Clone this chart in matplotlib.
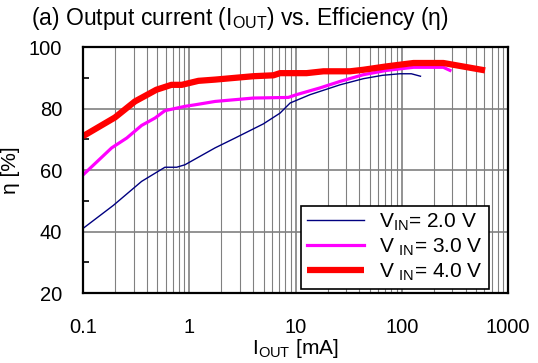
import matplotlib.pyplot as plt
from matplotlib.ticker import LogLocator, FixedLocator, NullFormatter

plt.rcParams['font.family'] = ['Liberation Sans', 'DejaVu Sans']
plt.rcParams['mathtext.fontset'] = 'custom'
plt.rcParams['mathtext.rm'] = 'Liberation Sans'

# output current [mA] and efficiency [%] for each input voltage
i_2v = [0.1, 0.193, 0.356, 0.59, 0.76, 0.91, 1.75, 2.7, 4.98, 7.15, 8.9, 13.7, 26.2, 43.5, 66, 96, 123, 150]
eta_2v = [41.0, 48.5, 56.3, 60.9, 60.9, 61.7, 67.2, 70.4, 75.0, 78.5, 81.8, 84.5, 87.7, 89.7, 90.8, 91.3, 91.3, 90.5]

i_3v = [0.1, 0.186, 0.258, 0.356, 0.476, 0.59, 0.91, 1.13, 1.75, 4.0, 8.55, 10.2, 17, 26.2, 43.5, 72, 129, 246, 284]
eta_3v = [58.4, 67.2, 70.4, 74.5, 76.9, 79.3, 80.7, 81.2, 82.3, 83.4, 83.6, 84.5, 86.7, 88.8, 91.0, 92.4, 93.4, 93.4, 92.4]

i_4v = [0.1, 0.2, 0.308, 0.49, 0.68, 0.85, 1.22, 1.75, 4.0, 6.2, 7.15, 12.7, 18.3, 32.6, 43.5, 72, 129, 246, 608]
eta_4v = [71.0, 77.1, 82.3, 86.1, 87.7, 87.7, 89.0, 89.4, 90.5, 90.8, 91.5, 91.5, 92.1, 92.1, 92.6, 93.7, 94.8, 94.8, 92.4]

labels = ['V$_\\mathregular{IN}$= 2.0 V', 'V $_\\mathregular{IN}$= 3.0 V', 'V $_\\mathregular{IN}$= 4.0 V']
x_ticks = [0.1, 1, 10, 100, 1000]
x_ticklabels = ['0.1', '1', '10', '100', '1000']
y_ticks = [20, 40, 60, 80, 100]
y_minor = [30, 50, 70, 90]

fig = plt.figure(figsize=(5.38, 3.63), dpi=100)
ax = fig.add_axes([0.1543, 0.1928, 0.790, 0.6777])

ax.plot(i_2v, eta_2v, color='#000080', lw=1.0, label=labels[0])
ax.plot(i_3v, eta_3v, color='#ff00ff', lw=2.3, label=labels[1])
ax.plot(i_4v, eta_4v, color='#ff0000', lw=4.5, label=labels[2], solid_capstyle='butt')

ax.set_xscale('log')
ax.set_xlim(0.1, 1000)
ax.set_ylim(20, 100)
ax.set_xticks(x_ticks)
ax.set_xticklabels(x_ticklabels)
ax.xaxis.set_minor_locator(LogLocator(base=10, subs=range(2, 10)))
ax.xaxis.set_minor_formatter(NullFormatter())
ax.set_yticks(y_ticks)
ax.yaxis.set_minor_locator(FixedLocator(y_minor))

ax.grid(True, which='major', axis='both', color='#808080', lw=1.2)
ax.grid(True, which='minor', axis='x', color='#808080', lw=0.8)
ax.set_axisbelow(True)

ax.tick_params(axis='both', which='both', direction='in', labelsize=14.5, colors='black')
ax.tick_params(axis='x', which='both', length=0, pad=18)
ax.tick_params(axis='y', which='major', length=0, pad=15)
ax.tick_params(axis='y', which='minor', length=4, width=1.2)

for s in ax.spines.values():
    s.set_linewidth(1.6)
    s.set_color('black')

ax.set_xlabel('I$_\\mathregular{OUT}$ [mA]', fontsize=15, labelpad=0)
ax.set_ylabel('η [%]', fontsize=15, labelpad=6)

fig.text(0.058, 0.95, '(a) Output current (I$_\\mathregular{OUT}$) vs. Efficiency (η)',
         fontsize=16.5, ha='left', va='center')

leg = ax.legend(loc='lower right', bbox_to_anchor=(0.955, 0.016), borderaxespad=0,
                fontsize=15, handlelength=2.75, handletextpad=0.7, labelspacing=0.15,
                fancybox=False, framealpha=1, edgecolor='black', borderpad=0.3)
leg.get_frame().set_linewidth(1.2)

fig.savefig('out.png', dpi=100)
